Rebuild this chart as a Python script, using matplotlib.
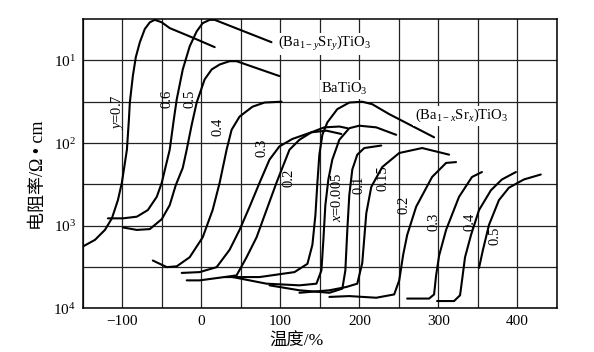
import matplotlib
matplotlib.use("Agg")
import matplotlib.pyplot as plt
import numpy as np

plt.rcParams['font.family'] = ['Liberation Serif', 'Noto Sans CJK SC', 'DejaVu Sans']
plt.rcParams['mathtext.fontset'] = 'custom'
plt.rcParams['mathtext.rm'] = 'Liberation Serif'
plt.rcParams['mathtext.it'] = 'Liberation Serif:italic'

# Temperature (x) and log10(resistivity) exponent (as labelled on the chart)
# (Ba1-ySry)TiO3 series
y07_T = [-150.0, -134.8, -122.2, -113.4, -105.8, -100.8, -94.4, -91.9, -90.7, -86.9, -83.1, -78.0, -71.7, -65.4, -59.1, -50.3, -40.2, -14.9, 16.7]
y07_v = [3.25, 3.17, 3.05, 2.91, 2.69, 2.48, 2.08, 1.72, 1.51, 1.19, 0.96, 0.78, 0.62, 0.54, 0.51, 0.54, 0.61, 0.71, 0.84]
y06_T = [-118.4, -99.5, -81.8, -67.9, -56.6, -50.3, -40.2, -35.1, -31.3, -23.7, -14.9, -6.1, 1.5, 10.4, 16.7, 88.6]
y06_v = [2.91, 2.91, 2.89, 2.81, 2.65, 2.48, 2.08, 1.72, 1.47, 1.11, 0.83, 0.65, 0.55, 0.51, 0.51, 0.78]
y05_T = [-99.5, -81.8, -65.4, -50.3, -40.2, -32.6, -23.7, -18.7, -12.4, -6.1, 4.0, 12.9, 23.0, 35.6, 44.4, 98.7]
y05_v = [3.02, 3.05, 3.04, 2.92, 2.75, 2.51, 2.30, 2.08, 1.78, 1.51, 1.23, 1.11, 1.05, 1.01, 1.01, 1.19]
y04_T = [-61.6, -43.9, -31.3, -14.9, 1.5, 14.1, 23.0, 31.8, 38.1, 48.2, 64.6, 79.8, 101.3]
y04_v = [3.42, 3.50, 3.49, 3.38, 3.14, 2.81, 2.48, 2.08, 1.84, 1.68, 1.56, 1.51, 1.50]
y03_T = [-25.0, -2.3, 19.2, 35.6, 48.2, 60.9, 73.5, 86.1, 98.7, 115.1, 139.1, 158.1, 177.0]
y03_v = [3.57, 3.56, 3.50, 3.29, 3.05, 2.77, 2.48, 2.20, 2.04, 1.95, 1.87, 1.85, 1.89]
y02_T = [-18.7, -2.3, 44.4, 57.1, 69.7, 82.3, 94.9, 111.4, 124.0, 139.1, 155.5, 174.5, 184.6]
y02_v = [3.66, 3.66, 3.60, 3.38, 3.14, 2.81, 2.48, 2.08, 1.96, 1.87, 1.81, 1.80, 1.82]

# BaTiO3
ba_T = [29.3, 73.5, 117.7, 134.1, 140.4, 144.2, 146.7, 149.2, 153.0, 159.3, 171.9, 187.1, 203.5, 216.1, 237.6, 294.4]
ba_v = [3.62, 3.62, 3.56, 3.46, 3.23, 2.87, 2.48, 2.14, 1.90, 1.75, 1.59, 1.51, 1.50, 1.53, 1.65, 1.93]

# (Ba1-xSrx)TiO3 series
x0005_T = [39.4, 82.3, 124.0, 145.5, 151.8, 154.3, 156.8, 160.6, 165.6, 174.5, 187.1, 199.7, 221.2, 246.4]
x0005_v = [3.62, 3.70, 3.72, 3.70, 3.54, 3.17, 2.75, 2.44, 2.20, 1.96, 1.82, 1.79, 1.81, 1.90]
x01_T = [86.1, 124.0, 161.9, 178.3, 182.1, 184.6, 187.1, 190.9, 197.2, 206.1, 227.5]
x01_v = [3.72, 3.78, 3.81, 3.76, 3.54, 3.05, 2.63, 2.32, 2.14, 2.06, 2.03]
x015_T = [124.0, 161.9, 183.3, 197.2, 203.5, 208.6, 214.9, 228.8, 250.3, 279.3, 313.4]
x015_v = [3.81, 3.78, 3.74, 3.70, 3.45, 2.85, 2.53, 2.29, 2.12, 2.06, 2.14]
x02_T = [161.9, 187.1, 221.2, 243.9, 250.3, 255.3, 260.4, 271.7, 291.9, 309.6, 322.2]
x02_v = [3.86, 3.85, 3.87, 3.83, 3.66, 3.35, 3.11, 2.77, 2.41, 2.24, 2.23]
x03_T = [260.3, 288.1, 294.4, 297.0, 300.8, 309.6, 326.0, 342.4, 355.0]
x03_v = [3.88, 3.88, 3.83, 3.60, 3.36, 3.05, 2.65, 2.41, 2.35]
x04_T = [298.2, 319.7, 327.3, 329.8, 333.6, 341.2, 351.3, 366.4, 380.3, 398.0]
x04_v = [3.91, 3.91, 3.84, 3.66, 3.38, 3.11, 2.81, 2.57, 2.44, 2.35]
x05_T = [351.3, 356.3, 363.9, 376.5, 389.1, 408.1, 429.5]
x05_v = [3.51, 3.29, 2.99, 2.69, 2.54, 2.44, 2.38]

curves = [
    (y07_T, y07_v), (y06_T, y06_v), (y05_T, y05_v), (y04_T, y04_v),
    (y03_T, y03_v), (y02_T, y02_v), (ba_T, ba_v),
    (x0005_T, x0005_v), (x01_T, x01_v), (x015_T, x015_v), (x02_T, x02_v),
    (x03_T, x03_v), (x04_T, x04_v), (x05_T, x05_v),
]

# curve labels: text, T, exponent
y_labels = [("$y$=0.7", -105.8, 1.62), ("0.6", -43.9, 1.47), ("0.5", -14.9, 1.47),
            ("0.4", 20.5, 1.81), ("0.3", 76.0, 2.06), ("0.2", 111.4, 2.42)]
x_labels = [("$x$=0.005", 172.0, 2.66), ("0.1", 199.7, 2.50), ("0.15", 230.0, 2.42),
            ("0.2", 256.6, 2.75), ("0.3", 294.4, 2.95), ("0.4", 340.0, 2.95), ("0.5", 371.0, 3.12)]

fig = plt.figure(figsize=(5.94, 3.52), dpi=100)
ax = fig.add_axes([0.1397, 0.1236, 0.7980, 0.8224])

for T, v in curves:
    ax.plot(T, 10 ** np.array(v), color='black', lw=1.5, solid_capstyle='round', zorder=3)

ax.set_yscale('log')
ax.set_xlim(-150, 450)
ax.set_ylim(1e4, 10 ** 0.5)
ax.set_yticks([10, 100, 1000, 10000])
ax.set_yticks([10 ** 1.5, 10 ** 2.5, 10 ** 3.5], minor=True)
ax.set_yticklabels(['$10^1$', '$10^2$', '$10^3$', '$10^4$'])
ax.set_xticks([-100, 0, 100, 200, 300, 400])
ax.set_xticklabels(['\u2212100', '0', '100', '200', '300', '400'])
ax.set_xticks(np.arange(-150, 451, 50), minor=True)
ax.grid(True, which='both', color='#222222', lw=0.9, zorder=1)
ax.tick_params(which='both', length=0, labelsize=11, pad=5)
for s in ax.spines.values():
    s.set_linewidth(1.1)

for txt, T, v in y_labels + x_labels:
    ax.text(T, 10 ** v, txt, rotation=90, ha='center', va='center', fontsize=10.5, zorder=4)

box = dict(facecolor='white', edgecolor='none', pad=1)
ax.text(155.5, 10 ** 0.80, r"(Ba$_{\mathrm{1-}y}$Sr$_y$)TiO$_3$", fontsize=10.5, ha='center', va='center', bbox=box, zorder=4)
ax.text(180.8, 10 ** 1.35, "BaTiO$_3$", fontsize=10.5, ha='center', va='center', bbox=box, zorder=4)
ax.text(329.0, 10 ** 1.67, r"(Ba$_{\mathrm{1-}x}$Sr$_x$)TiO$_3$", fontsize=10.5, ha='center', va='center', bbox=box, zorder=4)

ax.set_xlabel("温度/%", family=['Liberation Serif', 'Noto Sans CJK SC'], fontsize=12.5)
ax.xaxis.set_label_coords(0.451, -0.087)
ax.set_ylabel("电阻率/Ω • cm", family=['Liberation Serif', 'Noto Sans CJK SC'], fontsize=13)
ax.yaxis.set_label_coords(-0.075, 0.46)

fig.savefig("out.png", dpi=100)
